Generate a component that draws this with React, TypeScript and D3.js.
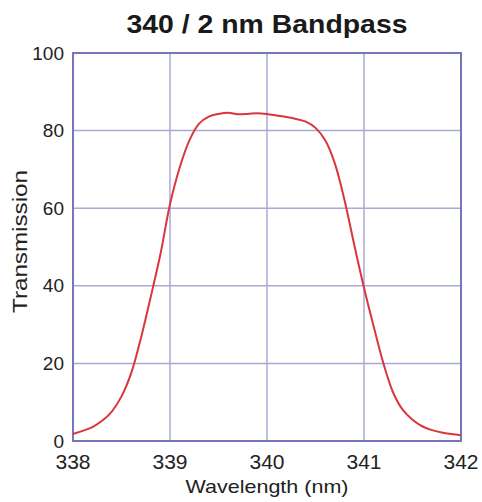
import React from "react";
import * as d3 from "d3";

const wavelengths = [
  338.0, 338.1, 338.2, 338.3, 338.4, 338.5, 338.6, 338.7, 338.8, 338.9,
  339.0, 339.1, 339.2, 339.3, 339.4, 339.5, 339.6, 339.7, 339.8, 339.9,
  340.0, 340.1, 340.2, 340.3, 340.4, 340.5, 340.6, 340.7, 340.8, 340.9,
  341.0, 341.1, 341.2, 341.3, 341.4, 341.5, 341.6, 341.7, 341.8, 341.9, 342.0,
];
const transmission = [
  1.8, 2.6, 3.6, 5.2, 7.6, 11.5, 17.5, 26.5, 37, 48,
  61, 70.5, 77.5, 81.8, 83.6, 84.3, 84.6, 84.2, 84.3, 84.5,
  84.3, 83.9, 83.5, 83.0, 82.3, 80.7, 77.5, 71.5, 62, 50.5,
  39.5, 29.5, 20, 12.5, 8, 5.5, 3.8, 2.8, 2.2, 1.8, 1.5,
];
const xTicks = [338, 339, 340, 341, 342];
const yTicks = [0, 20, 40, 60, 80, 100];
const title = "340 / 2 nm Bandpass";
const xLabel = "Wavelength (nm)";
const yLabel = "Transmission";

const W = 482;
const H = 502;
const L = 73, R = 461, T = 53, B = 441;

export default function App() {
  const x = d3.scaleLinear().domain([338, 342]).range([L, R]);
  const y = d3.scaleLinear().domain([0, 100]).range([B, T]);
  const pts: [number, number][] = wavelengths.map((w, i) => [w, transmission[i]]);
  const line = d3
    .line<[number, number]>()
    .x((d) => x(d[0]))
    .y((d) => y(d[1]))
    .curve(d3.curveCatmullRom.alpha(0.5));
  const font = "'Liberation Sans', Arial, Helvetica, sans-serif";
  return (
    <div style={{ position: "fixed", left: 0, top: 0, width: W, height: H, background: "#fff" }}>
      <svg width={W} height={H} style={{ display: "block" }}>
        <rect x={0} y={0} width={W} height={H} fill="#ffffff" />
        {xTicks.map((t) => (
          <line key={"gx" + t} x1={x(t)} x2={x(t)} y1={T} y2={B} stroke="#a9a9d6" strokeWidth={1.5} />
        ))}
        {yTicks.map((t) => (
          <line key={"gy" + t} x1={L} x2={R} y1={y(t)} y2={y(t)} stroke="#a9a9d6" strokeWidth={1.5} />
        ))}
        <rect x={L} y={T} width={R - L} height={B - T} fill="none" stroke="#7676bc" strokeWidth={2} />
        <path d={line(pts) || ""} fill="none" stroke="#d9363e" strokeWidth={2} />
        {yTicks.map((t) => (
          <text key={"ty" + t} x={64} y={y(t)} dy="0.35em" textAnchor="end" fontFamily={font} fontSize={19} fill="#222">
            {t}
          </text>
        ))}
        {xTicks.map((t) => (
          <text key={"tx" + t} x={x(t)} y={469} textAnchor="middle" fontFamily={font} fontSize={21} fill="#222">
            {t}
          </text>
        ))}
        <text x={267} y={33} textAnchor="middle" fontFamily={font} fontSize={25} fontWeight="bold" fill="#1a1a1a" textLength={281} lengthAdjust="spacingAndGlyphs">
          {title}
        </text>
        <text x={267} y={493} textAnchor="middle" fontFamily={font} fontSize={18.5} fill="#222" textLength={163} lengthAdjust="spacingAndGlyphs">
          {xLabel}
        </text>
        <text transform={`translate(27,241.5) rotate(-90)`} textAnchor="middle" fontFamily={font} fontSize={20} fill="#222" textLength={143} lengthAdjust="spacingAndGlyphs">
          {yLabel}
        </text>
      </svg>
    </div>
  );
}
